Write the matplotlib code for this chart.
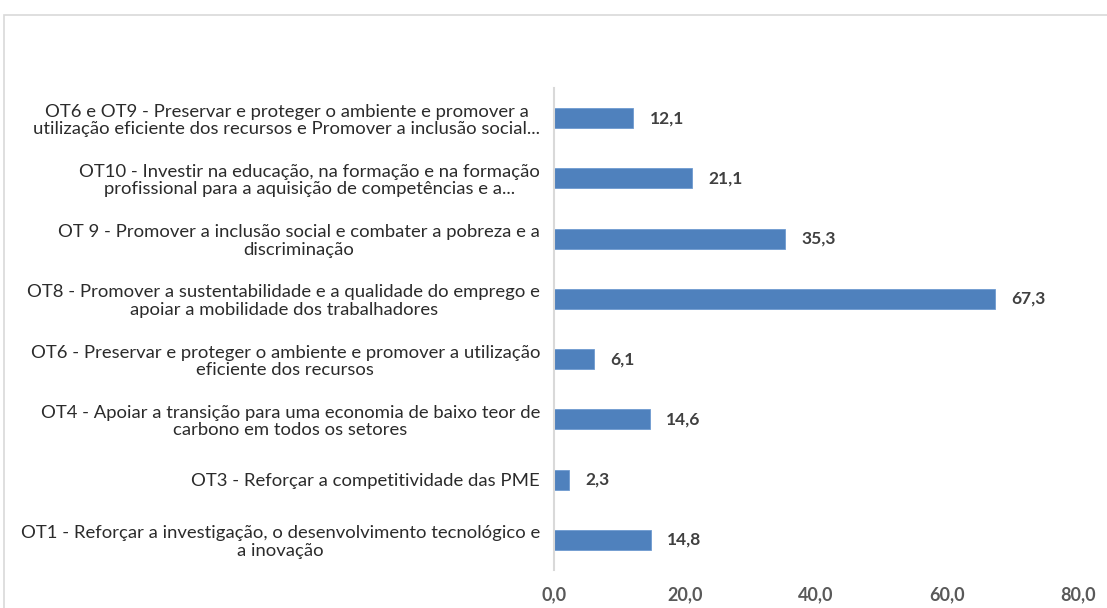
import matplotlib
matplotlib.use("Agg")
import matplotlib.pyplot as plt
from matplotlib.patches import Rectangle

categories = [
    "OT1 - Reforçar a investigação, o desenvolvimento tecnológico e\na inovação",
    "OT3 - Reforçar a competitividade das PME",
    "OT4 - Apoiar a transição para uma economia de baixo teor de\ncarbono em todos os setores",
    "OT6 - Preservar e proteger o ambiente e promover a utilização\neficiente dos recursos",
    "OT8 - Promover a sustentabilidade e a qualidade do emprego e\napoiar a mobilidade dos trabalhadores",
    "OT 9 - Promover a inclusão social e combater a pobreza e a\ndiscriminação",
    "OT10 - Investir na educação, na formação e na formação\nprofissional para a aquisição de competências e a...",
    "OT6 e OT9 - Preservar e proteger o ambiente e promover a\nutilização eficiente dos recursos e Promover a inclusão social...",
]
values = [14.8, 2.3, 14.6, 6.1, 67.3, 35.3, 21.1, 12.1]
xticks = [0, 20, 40, 60, 80]

W, H = 1107, 608
fig = plt.figure(figsize=(W / 100, H / 100), dpi=100)
fig.patch.set_facecolor("white")
plt.rcParams['font.family'] = ['Lato', 'DejaVu Sans']

# outer chart border (partially off canvas)
fig.add_artist(Rectangle((4 / W, -0.1), 1.2, (H - 15) / H + 0.1, transform=fig.transFigure,
                         fill=False, edgecolor="#d9d9d9", linewidth=1.2))

left, right = 554 / W, 1078 / W
top, bottom = 1 - 88 / H, 1 - 570 / H
ax = fig.add_axes([left, bottom, right - left, top - bottom])

y = list(range(len(categories)))
ax.barh(y, values, height=0.33, color="#4f81bd", edgecolor="#6f9bd0", linewidth=0.6)
ax.set_xlim(0, 80)
ax.set_ylim(-0.5, len(categories) - 0.5)

for yi, v in zip(y, values):
    ax.text(v + 2.5, yi, f"{v:.1f}".replace(".", ","), va="center", ha="left",
            fontsize=12.5, fontweight="bold", color="#404040")

ax.set_yticks(y)
ax.set_yticklabels(categories, fontsize=13.3, color="#2b2b2b",
                   multialignment="center", linespacing=1.12)
ax.tick_params(axis="y", length=0, pad=10)
ax.set_xticks(xticks)
ax.set_xticklabels([f"{t:.1f}".replace(".", ",") for t in xticks], fontsize=13,
                   fontweight="bold", color="#595959")
ax.tick_params(axis="x", length=0, pad=12)

for s in ["top", "right", "bottom"]:
    ax.spines[s].set_visible(False)
ax.spines["left"].set_color("#d9d9d9")
ax.spines["left"].set_linewidth(1.5)

fig.savefig("out.png", dpi=100, facecolor="white")
